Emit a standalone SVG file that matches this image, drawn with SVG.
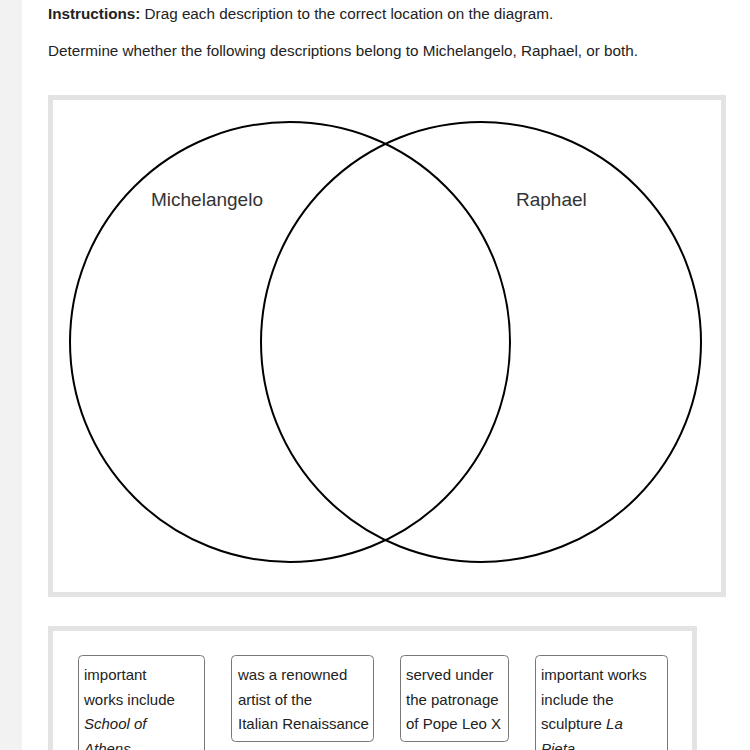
<svg xmlns="http://www.w3.org/2000/svg" width="750" height="750" viewBox="0 0 750 750">
<style>
text{font-family:"Liberation Sans",Arial,sans-serif;fill:#222}
.ins{font-size:15.25px}
.lbl{font-size:19px;fill:#333}
.card{fill:#fff;stroke:#777;stroke-width:1}
.ct{font-size:15px}
.frame{fill:#fff;stroke:#e3e3e3;stroke-width:5}
.circ{fill:none;stroke:#000;stroke-width:2}
</style>
<rect x="0" y="0" width="750" height="750" fill="#fff"/>
<rect x="0" y="0" width="22" height="750" fill="#f2f2f2"/>
<text class="ins" x="48" y="19"><tspan font-weight="bold">Instructions:</tspan> Drag each description to the correct location on the diagram.</text>
<text class="ins" x="48" y="56">Determine whether the following descriptions belong to Michelangelo, Raphael, or both.</text>
<g id="diagram-frame">
<rect class="frame" x="50.5" y="97.5" width="673" height="497"/>
</g>
<g id="michelangelo">
<circle class="circ" cx="290" cy="342" r="220"/>
<text class="lbl" x="151" y="206">Michelangelo</text>
</g>
<g id="raphael">
<circle class="circ" cx="481" cy="342" r="220"/>
<text class="lbl" x="516" y="206">Raphael</text>
</g>
<g id="bank-frame">
<rect class="frame" x="50.5" y="628.5" width="644" height="140"/>
</g>
<g id="card1">
<rect class="card" x="78.5" y="655.5" width="126" height="110" rx="4"/>
<text class="ct" x="84" y="680">important</text>
<text class="ct" x="84" y="705">works include</text>
<text class="ct" x="84" y="729" font-style="italic">School of</text>
<text class="ct" x="84" y="754" font-style="italic">Athens</text>
</g>
<g id="card2">
<rect class="card" x="231.5" y="655.5" width="142" height="86" rx="4"/>
<text class="ct" x="238" y="680">was a renowned</text>
<text class="ct" x="238" y="705">artist of the</text>
<text class="ct" x="238" y="729">Italian Renaissance</text>
</g>
<g id="card3">
<rect class="card" x="400.5" y="655.5" width="108" height="86" rx="4"/>
<text class="ct" x="406" y="680">served under</text>
<text class="ct" x="406" y="705">the patronage</text>
<text class="ct" x="406" y="729">of Pope Leo X</text>
</g>
<g id="card4">
<rect class="card" x="535.5" y="655.5" width="132" height="110" rx="4"/>
<text class="ct" x="541" y="680">important works</text>
<text class="ct" x="541" y="705">include the</text>
<text class="ct" x="541" y="729">sculpture <tspan font-style="italic">La</tspan></text>
<text class="ct" x="541" y="754" font-style="italic">Pieta</text>
</g>
<g id="connectors"></g>
</svg>
